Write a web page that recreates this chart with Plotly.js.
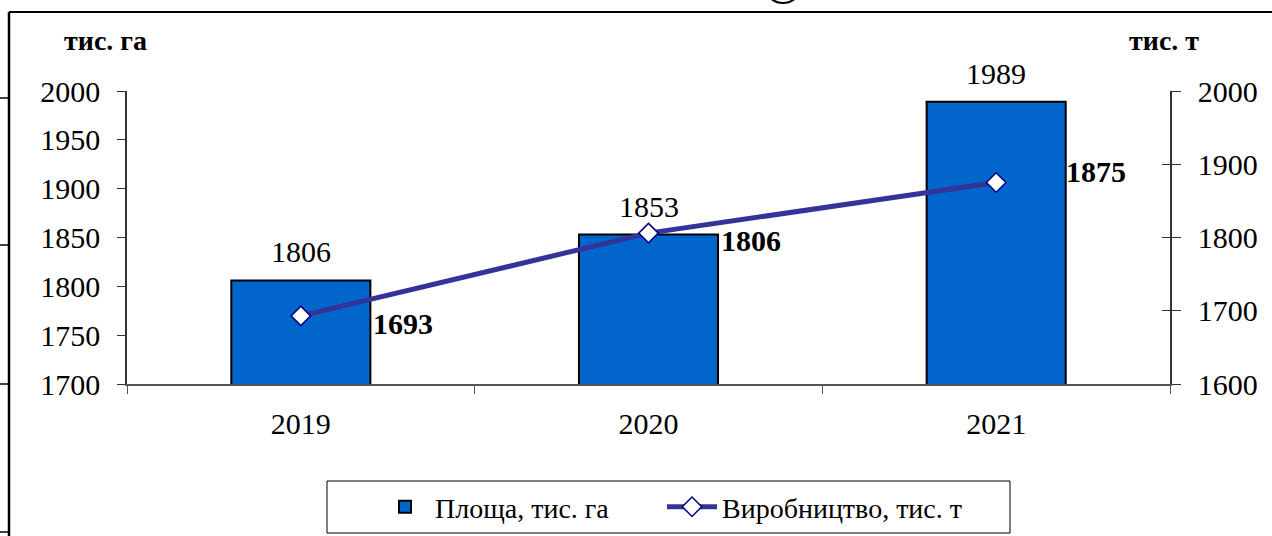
<!DOCTYPE html>
<html>
<head>
<meta charset="utf-8">
<script src="https://cdn.plot.ly/plotly-3.0.1.min.js"></script>
<style>html,body{margin:0;padding:0;background:#fff;}#chart{width:1272px;height:536px;}</style>
</head>
<body>
<div id="chart"></div>
<script>
// ---- data ----
const years = ['2019', '2020', '2021'];
const area = [1806, 1853, 1989];          // Площа, тис. га
const production = [1693, 1806, 1875];    // Виробництво, тис. т
const areaName = 'Площа, тис. га';
const prodName = 'Виробництво, тис. т';
const leftUnit = 'тис. га';
const rightUnit = 'тис. т';

// ---- layout constants ----
const W = 1272, H = 536;
const L = 127, R = 1170, T = 91, B = 384;
const px = x => (x - L) / (R - L);
const py = y => (B - y) / (B - T);
const prodLabelShift = [[70, -8], [70, -7], [68, 11]];
const FONT = 'Liberation Serif, Times New Roman, serif';
const FS = 30;

const bar = {
  type: 'bar', x: years, y: area, name: areaName,
  marker: {color: '#0066CC', line: {color: '#000', width: 2}},
  width: 0.4, yaxis: 'y', hoverinfo: 'x+y', legend: 'legend'
};
const line = {
  type: 'scatter', mode: 'lines+markers', x: years, y: production, name: prodName,
  line: {color: '#333399', width: 5},
  marker: {symbol: 'diamond', size: 15, color: '#fff', line: {color: '#000080', width: 1.5}},
  yaxis: 'y2', legend: 'legend2'
};

const annotations = [];
years.forEach((yr, i) => {
  // category index i is the axis position of years[i]
  annotations.push({x: i, y: area[i], xref: 'x', yref: 'y', text: String(area[i]),
    showarrow: false, yanchor: 'bottom', yshift: 10, font: {family: FONT, size: FS, color: '#000'}});
  annotations.push({x: i, y: production[i], xref: 'x', yref: 'y2', text: '<b>' + production[i] + '</b>',
    showarrow: false, xanchor: 'left', yanchor: 'middle', xshift: prodLabelShift[i][0], yshift: prodLabelShift[i][1],
    font: {family: FONT, size: FS, color: '#000'}});
});
annotations.push({xref: 'paper', yref: 'paper', x: px(105), y: py(40), xanchor: 'center', yanchor: 'middle',
  text: '<b>' + leftUnit + '</b>', showarrow: false, font: {family: FONT, size: 28, color: '#000'}});
annotations.push({xref: 'paper', yref: 'paper', x: px(1164), y: py(40), xanchor: 'center', yanchor: 'middle',
  text: '<b>' + rightUnit + '</b>', showarrow: false, font: {family: FONT, size: 28, color: '#000'}});

const shapes = [
  {type: 'line', xref: 'paper', yref: 'paper', x0: px(9), x1: px(1272), y0: py(12), y1: py(12), line: {color: '#000', width: 2}},
  {type: 'line', xref: 'paper', yref: 'paper', x0: px(9), x1: px(9), y0: py(12), y1: py(536), line: {color: '#000', width: 2.5}},
  ...[98, 245, 384, 532].map(y => ({type: 'line', xref: 'paper', yref: 'paper', x0: px(0), x1: px(9), y0: py(y), y1: py(y), line: {color: '#000', width: 1.5}})),
  {type: 'circle', xref: 'paper', yref: 'paper', x0: px(768), x1: px(798), y0: py(3), y1: py(-20), line: {color: '#000', width: 2}},
  // legend frame
  {type: 'rect', xref: 'paper', yref: 'paper', x0: px(327), x1: px(1010), y0: py(481), y1: py(533), line: {color: '#000', width: 1}, fillcolor: '#fff', layer: 'below'}
];

const legendBase = {
  orientation: 'h', xref: 'paper', yref: 'paper', xanchor: 'left', yanchor: 'middle',
  y: py(507), borderwidth: 0, bgcolor: 'rgba(0,0,0,0)',
  font: {family: FONT, size: 28, color: '#000'}, itemwidth: 50
};

const layout = {
  width: W, height: H,
  margin: {l: L, r: W - R, t: T, b: H - B, pad: 0, autoexpand: false},
  paper_bgcolor: '#fff', plot_bgcolor: 'rgba(0,0,0,0)',
  font: {family: FONT, size: FS, color: '#000'},
  showlegend: true,
  xaxis: {
    type: 'category', range: [-0.5, years.length - 0.5], showgrid: false, showline: true, linecolor: '#555', linewidth: 1.5,
    ticks: 'outside', tickson: 'boundaries', ticklen: 8, tickcolor: '#555', tickwidth: 1, tickangle: 0, automargin: false,
    tickfont: {family: FONT, size: FS, color: '#000'}, zeroline: false, fixedrange: true, ticklabelstandoff: 12
  },
  yaxis: {
    range: [1700, 2000], dtick: 50, showgrid: false, zeroline: false, automargin: false,
    showline: true, linecolor: '#333', linewidth: 1.5,
    ticks: 'outside', ticklen: 8, tickcolor: '#333', tickwidth: 1,
    tickfont: {family: FONT, size: FS, color: '#000'}, ticklabelstandoff: 11
  },
  yaxis2: {
    range: [1600, 2000], dtick: 100, overlaying: 'y', side: 'right', anchor: 'x', automargin: false,
    showgrid: false, zeroline: false, showline: true, linecolor: '#333', linewidth: 1.5,
    ticks: 'outside', ticklen: 9, tickcolor: '#333', tickwidth: 1,
    tickfont: {family: FONT, size: FS, color: '#000'}, ticklabelstandoff: 11
  },
  yaxis3: {
    range: [1600, 2000], dtick: 100, overlaying: 'y', side: 'right', anchor: 'x', automargin: false,
    showgrid: false, zeroline: false, showline: false, showticklabels: false,
    ticks: 'inside', ticklen: 8, tickcolor: '#333', tickwidth: 1
  },
  legend: Object.assign({}, legendBase, {x: px(375)}),
  legend2: Object.assign({}, legendBase, {x: px(662)}),
  annotations: annotations,
  shapes: shapes
};

const dummy = {type: 'scatter', x: years, y: [null, null, null], yaxis: 'y3', showlegend: false, hoverinfo: 'skip'};

Plotly.newPlot('chart', [bar, line, dummy], layout, {displayModeBar: false});
</script>
</body>
</html>
